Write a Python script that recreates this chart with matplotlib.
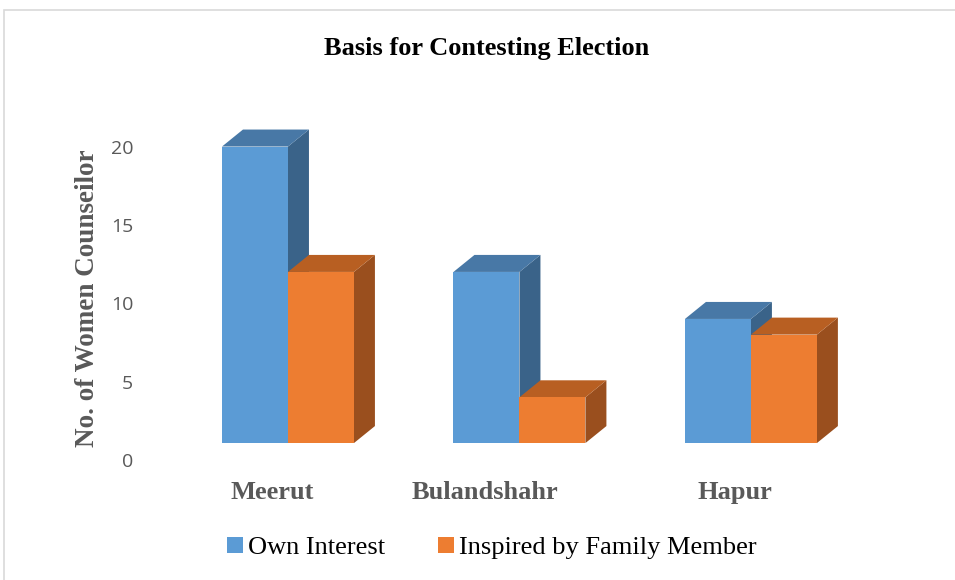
import numpy as np
import matplotlib.pyplot as plt
from matplotlib.patches import Rectangle

districts = ['Meerut', 'Bulandshahr', 'Hapur']
own_interest = [20, 12, 9]
family_member = [12, 4, 8]
series_names = ['Own Interest', 'Inspired by Family Member']
yticks = [0, 5, 10, 15, 20]

# front / top / side shades for the fake 3D look
blue = ['#5b9bd5', '#4878a6', '#3a6389']
orange = ['#ed7d31', '#b85f22', '#9a4f1e']

fig = plt.figure(figsize=(9.55, 5.8), dpi=100)
fig.patches.append(Rectangle((4/955, -1), 2, 1 + 570/580, transform=fig.transFigure,
                             fill=False, edgecolor='#d9d9d9', linewidth=1.2))

ax = fig.add_axes([150/955, 1-470/580, 750/955, 370/580])
ax.set_xlim(-0.596, 2.644)
ax.set_ylim(-0.638, 22.97)

x = np.arange(len(districts))
w = 0.285
dx, dy = 0.0907, 1.085
floor = 1.08  # 3D floor sits a little above zero on the front

def bar3d(xs, vals, cols, label):
    for xi, v in zip(xs, vals):
        x0, x1 = xi, xi + w
        # side face
        ax.fill([x1, x1 + dx, x1 + dx, x1], [floor, floor + dy, v + dy, v], color=cols[2], lw=0)
        # top face
        ax.fill([x0, x0 + dx, x1 + dx, x1], [v, v + dy, v + dy, v], color=cols[1], lw=0)
    return ax.bar(xs, np.array(vals) - floor, bottom=floor, width=w, align='edge',
                  color=cols[0], label=label)

b1 = bar3d(x - w, own_interest, blue, series_names[0])
b2 = bar3d(x, family_member, orange, series_names[1])

for s in ax.spines.values():
    s.set_visible(False)
ax.set_yticks(yticks)
ax.tick_params(axis='y', length=0, labelsize=14, labelcolor='#595959', pad=12)
for t in ax.get_yticklabels():
    t.set_family('Open Sans')
ax.set_xticks(x + np.array([-0.07, -0.15, -0.07]))
ax.set_xticklabels(districts, family='Liberation Serif', fontweight='bold',
                   fontsize=19, color='#595959')
ax.tick_params(axis='x', length=0, pad=8)

fig.text(88/955, 1-298/580, 'No. of Women Counseilor', rotation=90, ha='center', va='center',
         family='Liberation Serif', fontweight='bold', fontsize=19.5, color='#595959')
fig.text(487/955, 1-48/580, 'Basis for Contesting Election', ha='center', va='center',
         family='Liberation Serif', fontweight='bold', fontsize=19, color='black')

fig.legend(handles=[b1, b2], loc='center', bbox_to_anchor=(492/955, 1-548/580), ncol=2,
           frameon=False, handlelength=0.6, handleheight=0.6, handletextpad=0.2,
           columnspacing=2.0, prop={'family': 'Liberation Serif', 'size': 19})

plt.savefig('out.png', dpi=100)
